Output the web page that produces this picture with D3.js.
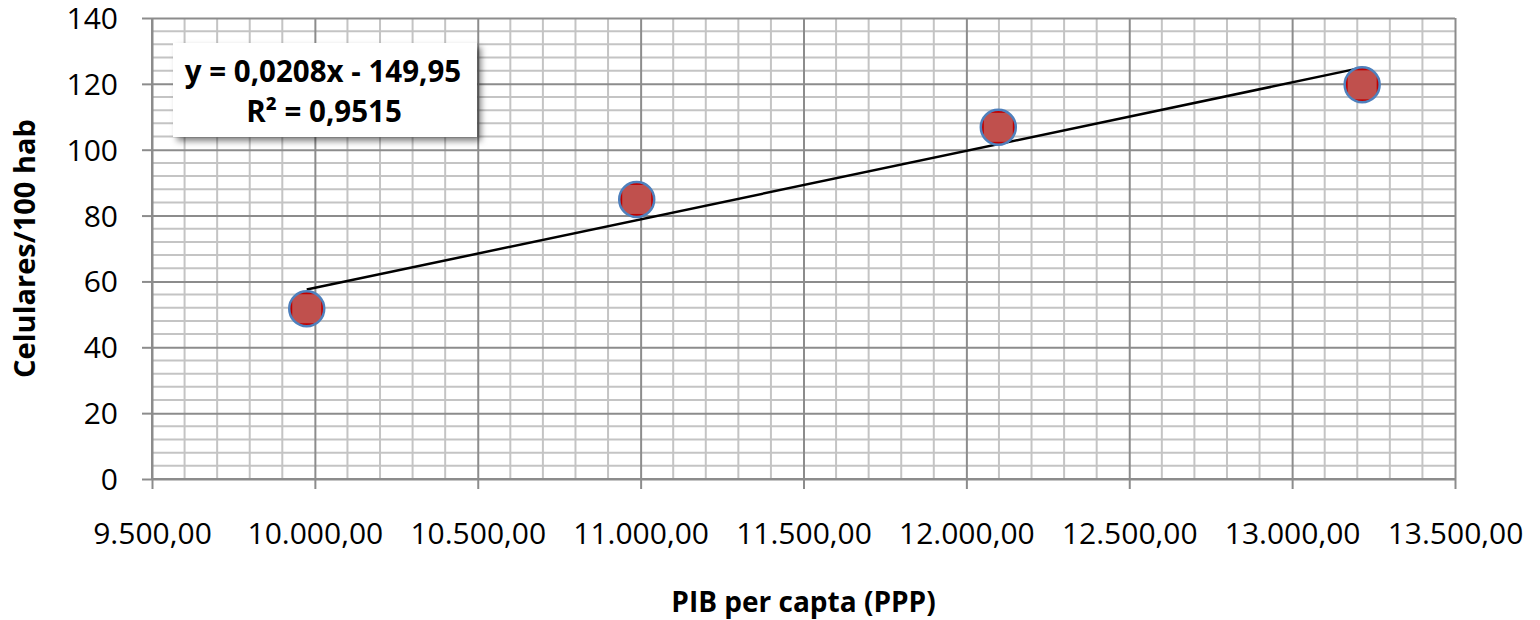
<!DOCTYPE html>
<html><head><meta charset="utf-8">
<script src="https://cdn.jsdelivr.net/npm/d3@7"></script>
<style>html,body{margin:0;padding:0;background:#fff;}svg{display:block;}</style>
</head><body>
<svg id="chart" width="1540" height="620"></svg>
<script>
// ---- data ----
const pibPerCapta = [9975, 10988, 12098, 13215];
const celulares = [51.7, 84.9, 106.8, 119.7];
const trendCoef = [0.0208, -149.95]; // slope, intercept
const equationLines = ["y = 0,0208x - 149,95", "R\u00B2 = 0,9515"];
const xTicks = [9500, 10000, 10500, 11000, 11500, 12000, 12500, 13000, 13500];
const yTicks = [0, 20, 40, 60, 80, 100, 120, 140];
const xTitle = "PIB per capta (PPP)";
const yTitle = "Celulares/100 hab";

const svg = d3.select("#chart");
const L = 152, R = 1455, T = 18, B = 479;
const x = d3.scaleLinear().domain([9500, 13500]).range([L, R]);
const y = d3.scaleLinear().domain([0, 140]).range([B, T]);
const font = "'Open Sans', sans-serif";

const defs = svg.append("defs");
const f = defs.append("filter").attr("id", "shadow").attr("x", "-10%").attr("y", "-20%").attr("width", "130%").attr("height", "160%");
f.append("feDropShadow").attr("dx", 4).attr("dy", 4).attr("stdDeviation", 3).attr("flood-color", "#000").attr("flood-opacity", 0.5);

// minor grid
const xMinor = d3.range(9500, 13501, 100).filter(v => v % 500 !== 0);
const yMinor = d3.range(0, 141, 4).filter(v => v % 20 !== 0);
const g = svg.append("g");
g.selectAll(".xm").data(xMinor).join("line")
  .attr("x1", d => x(d)).attr("x2", d => x(d)).attr("y1", T).attr("y2", B)
  .attr("stroke", "#c4c4c4").attr("stroke-width", 2);
g.selectAll(".ym").data(yMinor).join("line")
  .attr("x1", L).attr("x2", R).attr("y1", d => y(d)).attr("y2", d => y(d))
  .attr("stroke", "#c4c4c4").attr("stroke-width", 2);

// major grid via axes
const yAxis = d3.axisLeft(y).tickValues(yTicks).tickSize(-(R - L)).tickFormat("");
const xAxis = d3.axisBottom(x).tickValues(xTicks).tickSize(-(B - T)).tickFormat("");
svg.append("g").attr("transform", `translate(${L},0)`).call(yAxis)
  .call(s => s.select(".domain").remove())
  .selectAll("line").attr("stroke", "#8c8c8c").attr("stroke-width", 2);
svg.append("g").attr("transform", `translate(0,${B})`).call(xAxis)
  .call(s => s.select(".domain").remove())
  .selectAll("line").attr("stroke", "#8c8c8c").attr("stroke-width", 2);

// outer ticks + labels
const yA = svg.append("g").attr("transform", `translate(${L},0)`)
  .call(d3.axisLeft(y).tickValues(yTicks).tickSize(10).tickPadding(24).tickFormat(d3.format("d")));
yA.select(".domain").attr("stroke", "#8c8c8c").attr("stroke-width", 2).attr("d", `M0,${T}V${B}`);
yA.selectAll("line").attr("stroke", "#8c8c8c").attr("stroke-width", 2);
yA.selectAll("text").attr("font-family", font).attr("font-size", 30).attr("fill", "#000").attr("dy", "0.35em");

const fmtX = v => d3.format(",.2f")(v).replace(/,/g, "#").replace(".", ",").replace(/#/g, ".");
const xA = svg.append("g").attr("transform", `translate(0,${B})`)
  .call(d3.axisBottom(x).tickValues(xTicks).tickSize(10).tickPadding(34).tickFormat(fmtX));
xA.select(".domain").attr("stroke", "#8c8c8c").attr("stroke-width", 2).attr("d", `M${L},0H${R}`);
xA.selectAll("line").attr("stroke", "#8c8c8c").attr("stroke-width", 2);
xA.selectAll("text").attr("font-family", font).attr("font-size", 30).attr("fill", "#000");

// titles
svg.append("text").attr("x", (L + R) / 2).attr("y", 612).attr("text-anchor", "middle")
  .attr("font-family", font).attr("font-weight", "bold").attr("font-size", 28).text(xTitle);
svg.append("text").attr("transform", `translate(35,${(T + B) / 2}) rotate(-90)`).attr("text-anchor", "middle")
  .attr("font-family", font).attr("font-weight", "bold").attr("font-size", 29).text(yTitle);

// trendline
const xmin = d3.min(pibPerCapta), xmax = d3.max(pibPerCapta);
const trend = v => trendCoef[0] * v + trendCoef[1];
svg.append("line").attr("x1", x(xmin)).attr("y1", y(trend(xmin))).attr("x2", x(xmax)).attr("y2", y(trend(xmax)))
  .attr("stroke", "#000").attr("stroke-width", 2.5);

// markers
const pts = pibPerCapta.map((v, i) => ({ x: v, y: celulares[i] }));
pts.forEach((p, i) => {
  defs.append("clipPath").attr("id", "c" + i).append("circle").attr("cx", x(p.x)).attr("cy", y(p.y)).attr("r", 17.5);
});
const mg = svg.append("g");
mg.selectAll(".bg").data(pts).join("circle").attr("cx", d => x(d.x)).attr("cy", d => y(d.y)).attr("r", 17.5).attr("fill", "#c00000");
mg.selectAll(".sq").data(pts).join("rect")
  .attr("x", d => x(d.x) - 14.5).attr("y", d => y(d.y) - 14.5).attr("width", 29).attr("height", 29)
  .attr("fill", "#c0504d").attr("clip-path", (d, i) => `url(#c${i})`);
mg.selectAll(".ol").data(pts).join("circle").attr("cx", d => x(d.x)).attr("cy", d => y(d.y)).attr("r", 17.5)
  .attr("fill", "none").attr("stroke", "#4f81bd").attr("stroke-width", 2.5);

// equation box
svg.append("rect").attr("x", 173).attr("y", 43).attr("width", 304).attr("height", 94)
  .attr("fill", "#fff").attr("filter", "url(#shadow)");
svg.append("text").attr("x", 323).attr("y", 82).attr("text-anchor", "middle")
  .attr("font-family", font).attr("font-weight", "bold").attr("font-size", 29.5).text(equationLines[0]);
svg.append("text").attr("x", 324).attr("y", 122).attr("text-anchor", "middle")
  .attr("font-family", font).attr("font-weight", "bold").attr("font-size", 29.5).text(equationLines[1]);
</script>
</body></html>
